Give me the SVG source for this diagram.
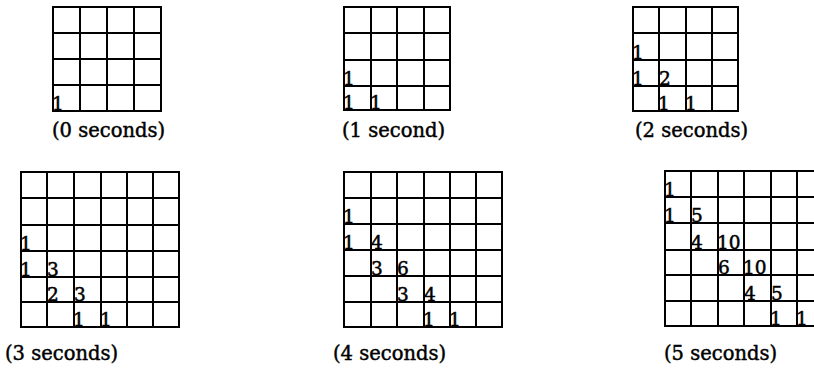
<svg xmlns="http://www.w3.org/2000/svg" width="814" height="373" viewBox="0 0 814 373">
<style>
.g{fill:none;stroke:#000;stroke-width:2;stroke-linecap:square}
.n{font-family:"DejaVu Serif","Liberation Serif",serif;font-size:18.5px;fill:#000;stroke:#000;stroke-width:0.5}
.lbl{font-family:"DejaVu Serif","Liberation Serif",serif;font-size:19.5px;fill:#000;stroke:#000;stroke-width:0.45}
</style>
<rect width="814" height="373" fill="#fff"/>
<g id="grid-0s">
<path class="g" d="M53,7H161M53,33H161M53,59H161M53,85H161M53,111H161M53,7V111M80,7V111M107,7V111M134,7V111M161,7V111"/>
<text class="n" x="52" y="110">1</text>
<text class="lbl" x="52" y="137">(0 seconds)</text>
</g>
<g id="grid-1s">
<path class="g" d="M344,7H450M344,33H450M344,60H450M344,86H450M344,110H450M344,7V110M371,7V110M397,7V110M424,7V110M450,7V110"/>
<text class="n" x="343" y="85">1</text>
<text class="n" x="343" y="109">1</text>
<text class="n" x="370" y="109">1</text>
<text class="lbl" x="342" y="137">(1 second)</text>
</g>
<g id="grid-2s">
<path class="g" d="M633,7H738M633,33H738M633,60H738M633,86H738M633,111H738M633,7V111M659,7V111M686,7V111M712,7V111M738,7V111"/>
<text class="n" x="632" y="59">1</text>
<text class="n" x="632" y="85">1</text>
<text class="n" x="659" y="85">2</text>
<text class="n" x="658" y="110">1</text>
<text class="n" x="685" y="110">1</text>
<text class="lbl" x="635" y="137">(2 seconds)</text>
</g>
<g id="grid-3s">
<path class="g" d="M21,172H179M21,198H179M21,225H179M21,251H179M21,277H179M21,302H179M21,327H179M21,172V327M47,172V327M74,172V327M101,172V327M127,172V327M153,172V327M179,172V327"/>
<text class="n" x="20" y="250">1</text>
<text class="n" x="20" y="276">1</text>
<text class="n" x="47" y="276">3</text>
<text class="n" x="47" y="301">2</text>
<text class="n" x="74" y="301">3</text>
<text class="n" x="73" y="326">1</text>
<text class="n" x="100" y="326">1</text>
<text class="lbl" x="5" y="360">(3 seconds)</text>
</g>
<g id="grid-4s">
<path class="g" d="M344,172H502M344,198H502M344,224H502M344,250H502M344,276H502M344,302H502M344,327H502M344,172V327M371,172V327M397,172V327M424,172V327M450,172V327M476,172V327M502,172V327"/>
<text class="n" x="343" y="223">1</text>
<text class="n" x="343" y="249">1</text>
<text class="n" x="371" y="249">4</text>
<text class="n" x="371" y="275">3</text>
<text class="n" x="397" y="275">6</text>
<text class="n" x="397" y="301">3</text>
<text class="n" x="424" y="301">4</text>
<text class="n" x="423" y="326">1</text>
<text class="n" x="449" y="326">1</text>
<text class="lbl" x="333" y="360">(4 seconds)</text>
</g>
<g id="grid-5s">
<path class="g" d="M665,171H823M665,197H823M665,223H823M665,250H823M665,275H823M665,301H823M665,326H823M665,171V326M691,171V326M718,171V326M744,171V326M771,171V326M797,171V326M823,171V326"/>
<text class="n" x="664" y="196">1</text>
<text class="n" x="664" y="222">1</text>
<text class="n" x="691" y="222">5</text>
<text class="n" x="691" y="249">4</text>
<text class="n" x="717" y="249">10</text>
<text class="n" x="718" y="274">6</text>
<text class="n" x="743" y="274">10</text>
<text class="n" x="744" y="300">4</text>
<text class="n" x="771" y="300">5</text>
<text class="n" x="770" y="325">1</text>
<text class="n" x="796" y="325">1</text>
<text class="lbl" x="664" y="360">(5 seconds)</text>
</g>
</svg>
